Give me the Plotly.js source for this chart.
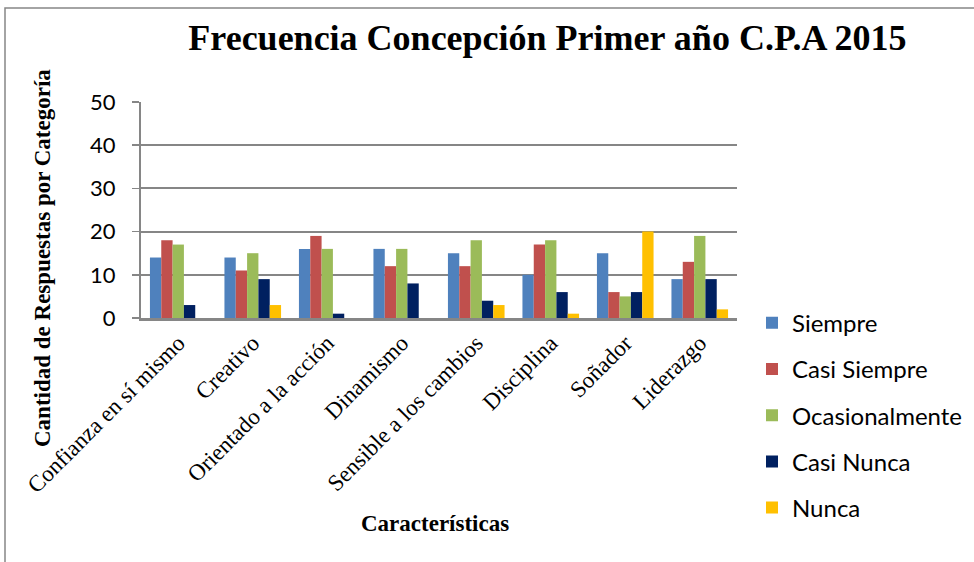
<!DOCTYPE html>
<html>
<head>
<meta charset="utf-8">
<script src="https://cdn.plot.ly/plotly-3.0.1.min.js"></script>
<style>html,body{margin:0;padding:0;background:#fff;}#chart{width:974px;height:562px;}</style>
</head>
<body>
<div id="chart"></div>
<script>
const categories = ["Confianza en sí mismo", "Creativo", "Orientado a la acción", "Dinamismo", "Sensible a los cambios", "Disciplina", "Soñador", "Liderazgo"];
const siempre = [14, 14, 16, 16, 15, 10, 15, 9];
const casiSiempre = [18, 11, 19, 12, 12, 17, 6, 13];
const ocasionalmente = [17, 15, 16, 16, 18, 18, 5, 19];
const casiNunca = [3, 9, 1, 8, 4, 6, 6, 9];
const nunca = [0, 3, 0, 0, 3, 1, 20, 2];
const seriesNames = ["Siempre", "Casi Siempre", "Ocasionalmente", "Casi Nunca", "Nunca"];
const seriesColors = ["#4F81BD", "#C0504D", "#9BBB59", "#002060", "#FFC000"];
const yTicks = [0, 10, 20, 30, 40, 50];

const allSeries = [siempre, casiSiempre, ocasionalmente, casiNunca, nunca];
const traces = allSeries.map((vals, i) => ({
  type: "bar",
  name: seriesNames[i],
  x: categories,
  y: vals,
  legendgroup: "g" + i,
  marker: {color: seriesColors[i], line: {width: 0}},
  hoverinfo: "x+y+name"
}));

const serif = "Liberation Serif, Times New Roman, serif";
const sans = "Lato, Liberation Sans, sans-serif";

const layout = {
  width: 974, height: 562,
  margin: {l: 141, r: 237, t: 102, b: 244, pad: 0, autoexpand: false},
  paper_bgcolor: "#ffffff", plot_bgcolor: "#ffffff",
  barmode: "group", bargap: 0.24, bargroupgap: 0,
  title: {
    text: "<b>Frecuencia Concepción Primer año C.P.A 2015</b>",
    font: {family: serif, size: 36, color: "#000"},
    xref: "paper", x: 0.682, xanchor: "center",
    yref: "container", y: 1 - 37/562, yanchor: "middle"
  },
  xaxis: {
    tickangle: -45,
    tickfont: {family: serif, size: 23, color: "#000"},
    showline: true, linecolor: "#868686", linewidth: 2.5,
    ticks: "", showgrid: false,
    automargin: false
  },
  yaxis: {
    range: [0, 50], tickvals: yTicks, ticktext: yTicks.map(String),
    tickfont: {family: sans, size: 22, color: "#000"},
    showgrid: true, gridcolor: "#868686", gridwidth: 2,
    showline: true, linecolor: "#868686", linewidth: 2,
    ticks: "outside", ticklen: 7, tickcolor: "#868686", tickwidth: 1.5,
    ticklabelstandoff: 12,
    zeroline: false, automargin: false
  },
  annotations: [
    {
      text: "<b>Características</b>", xref: "paper", yref: "paper",
      x: (435 - 141) / 596, y: (318 - 523) / 216, xanchor: "center", yanchor: "middle",
      showarrow: false, font: {family: serif, size: 23, color: "#000"}
    },
    {
      text: "<b>Cantidad de Respuestas por Categoría</b>", xref: "paper", yref: "paper",
      x: (42 - 141) / 596, y: (318 - 258) / 216, xanchor: "center", yanchor: "middle",
      textangle: -90, showarrow: false, font: {family: serif, size: 23, color: "#000"}
    }
  ],
  legend: {
    x: (752 - 141) / 596, xanchor: "left", y: 0.08, yanchor: "top",
    font: {family: sans, size: 24, color: "#000"},
    tracegroupgap: 12, bgcolor: "rgba(0,0,0,0)", itemwidth: 30,
    maxheight: 400
  },
  shapes: [{
    type: "rect", xref: "paper", yref: "paper",
    x0: (5 - 141) / 596, x1: (990 - 141) / 596,
    y0: (318 - 580) / 216, y1: (318 - 8) / 216,
    line: {color: "#868686", width: 1.5}, fillcolor: "rgba(0,0,0,0)", layer: "below"
  }],
  showlegend: true
};

Plotly.newPlot("chart", traces, layout, {displayModeBar: false, staticPlot: true});
</script>
</body>
</html>
